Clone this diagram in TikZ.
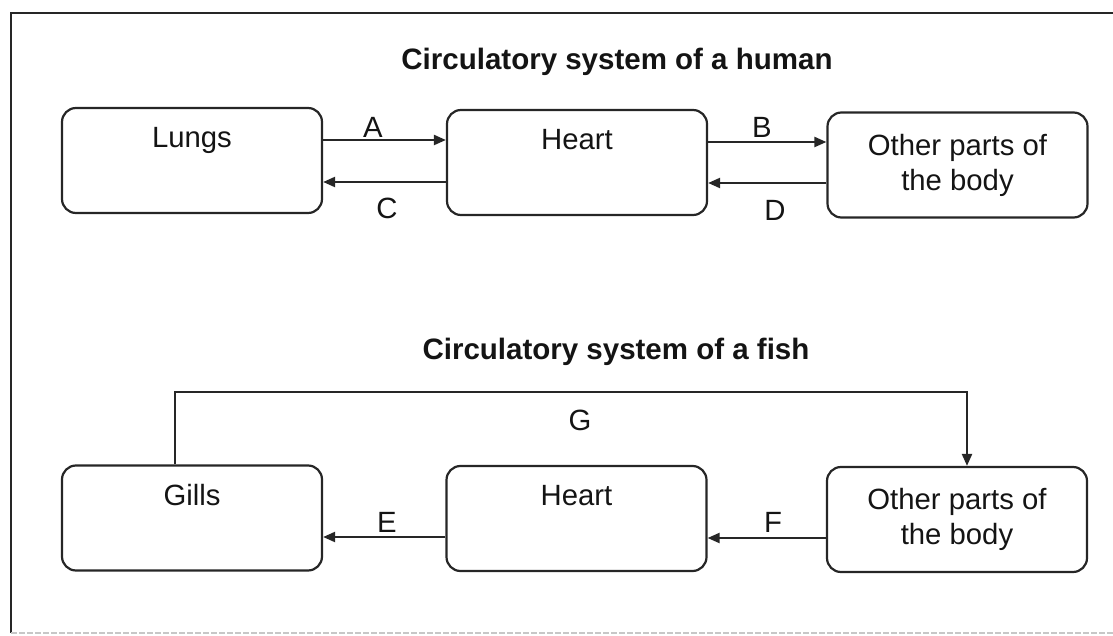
\documentclass[tikz,border=0pt]{standalone}
\usepackage{fontspec}
\setmainfont{Liberation Sans}
\usetikzlibrary{arrows.meta}
\begin{document}
\begin{tikzpicture}[x=1pt,y=-1pt,
  every node/.style={font=\fontsize{29.3}{35}\selectfont, text=black!92},
  box/.style={draw=black!85, line width=2.2pt, rounded corners=14pt,
    minimum width=260pt, minimum height=105pt, align=center, inner sep=0pt},
  title/.style={font=\fontsize{29.5}{35}\selectfont\bfseries},
  arr/.style={draw=black!85, line width=2.2pt,
    -{Triangle[length=12pt,width=10pt]}},
  lab/.style={inner sep=0pt}]
\useasboundingbox (0,0) rectangle (1113,636);
% frame
\draw[black!85, line width=2.6pt] (11,633) -- (11,13) -- (1113,13);
\draw[black!22, line width=1.2pt, dash pattern=on 6pt off 2pt] (11,633) -- (1113,633);

% human
\node[title] (t1) at (617,62) {Circulatory system of a human};
\node[box] (lungs) at (192,160.5) {Lungs\\\strut};
\node[box] (heart) at (577,162.5) {Heart\\\strut};
\node[box] (other) at (957.5,165) {Other parts of\\the body};

\draw[arr] (lungs.east |- 0,140) -- (heart.west |- 0,140) node[lab] at (373,127) {A};
\draw[arr] (heart.west |- 0,182) -- (lungs.east |- 0,182) node[lab] at (387,208) {C};
\draw[arr] (heart.east |- 0,142) -- (other.west |- 0,142) node[lab] at (762,127) {B};
\draw[arr] (other.west |- 0,183) -- (heart.east |- 0,183) node[lab] at (775,210) {D};

% fish
\node[title] (t2) at (616,352) {Circulatory system of a fish};
\node[box] (gills) at (192,518) {Gills\\\strut};
\node[box] (fheart) at (576.5,518.5) {Heart\\\strut};
\node[box] (fother) at (957,519.5) {Other parts of\\the body};

\draw[arr] (fheart.west |- 0,537) -- (gills.east |- 0,537) node[lab] at (387,522) {E};
\draw[arr] (fother.west |- 0,538) -- (fheart.east |- 0,538) node[lab] at (773,522) {F};
\draw[arr] (gills.north -| 175,0) -- (175,392) -- (967,392) -- (fother.north -| 967,0)
  node[lab] at (580,420) {G};
\end{tikzpicture}
\end{document}
